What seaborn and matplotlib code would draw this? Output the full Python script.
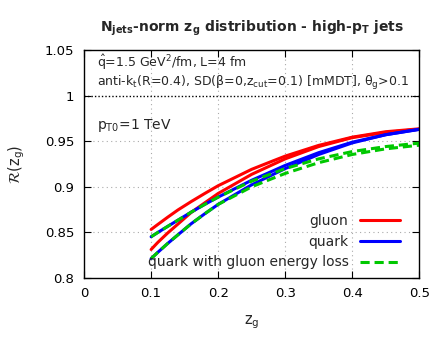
import numpy as np
import pandas as pd
import matplotlib
matplotlib.use("Agg")
import matplotlib.pyplot as plt
from matplotlib.ticker import FuncFormatter
import seaborn as sns

# z_g sample points and R(z_g)
zg = [0.1, 0.11, 0.125, 0.14, 0.16, 0.18, 0.2, 0.225, 0.25, 0.275, 0.3, 0.35, 0.4, 0.45, 0.5]

gluon_a = [0.853, 0.8585, 0.8666, 0.8744, 0.8837, 0.8925, 0.901, 0.910, 0.919, 0.9263, 0.9335, 0.9453, 0.9543, 0.9603, 0.9635]
gluon_b = [0.831, 0.8388, 0.8493, 0.8589, 0.8718, 0.8822, 0.8925, 0.903, 0.9135, 0.922, 0.9305, 0.944, 0.9538, 0.9595, 0.963]
quark_a = [0.845, 0.8497, 0.8565, 0.8632, 0.8721, 0.8805, 0.8885, 0.8978, 0.907, 0.9151, 0.9233, 0.9373, 0.9488, 0.957, 0.9628]
quark_b = [0.821, 0.8279, 0.8378, 0.8471, 0.8594, 0.8702, 0.8805, 0.8913, 0.902, 0.9109, 0.9198, 0.9353, 0.948, 0.957, 0.963]
qgloss_a = [0.845, 0.8497, 0.8565, 0.8632, 0.8721, 0.8805, 0.8885, 0.8973, 0.906, 0.9129, 0.9198, 0.9305, 0.9385, 0.944, 0.9478]
qgloss_b = [0.821, 0.8279, 0.8378, 0.8471, 0.8594, 0.8702, 0.8805, 0.8901, 0.8998, 0.9072, 0.9145, 0.9263, 0.9353, 0.9415, 0.9455]

xticks = [0, 0.1, 0.2, 0.3, 0.4, 0.5]
yticks = [0.8, 0.85, 0.9, 0.95, 1.0, 1.05]

sns.set_style("ticks")
plt.rcParams['font.family'] = ['DejaVu Sans']
plt.rcParams['mathtext.fontset'] = 'dejavusans'
plt.rcParams['mathtext.default'] = 'regular'

fig = plt.figure(figsize=(4.45, 3.45), dpi=100)
ax = fig.add_axes([0.189, 0.195, 0.753, 0.66])

red, blue, green = '#ff0000', '#0000ff', '#00c800'
dash = (0, (3, 1.6))
sns.lineplot(x=zg, y=gluon_a, color=red, lw=2.2, ax=ax, label='gluon')
sns.lineplot(x=zg, y=gluon_b, color=red, lw=2.2, ax=ax)
sns.lineplot(x=zg, y=quark_a, color=blue, lw=2.2, ax=ax, label='quark')
sns.lineplot(x=zg, y=quark_b, color=blue, lw=2.2, ax=ax)
sns.lineplot(x=zg, y=qgloss_a, color=green, lw=2.2, ls=dash, ax=ax,
             label='quark with gluon energy loss')
sns.lineplot(x=zg, y=qgloss_b, color=green, lw=2.2, ls=dash, ax=ax)

ax.set_xlim(0, 0.5)
ax.set_ylim(0.8, 1.05)
ax.set_xticks(xticks)
ax.set_yticks(yticks)
fmt = FuncFormatter(lambda v, p: '%g' % round(v, 3))
ax.xaxis.set_major_formatter(fmt)
ax.yaxis.set_major_formatter(fmt)
ax.tick_params(direction='in', top=True, right=True, length=5, width=0.8,
               labelsize=9.5, pad=7, colors='black')
for s in ax.spines.values():
    s.set_linewidth(1.0)
    s.set_color('black')

for x in [0.1, 0.2, 0.3, 0.4]:
    ax.axvline(x, color='#aaaaaa', lw=0.8, ls=(0, (1, 3)), zorder=0)
for y in [0.85, 0.9, 0.95]:
    ax.axhline(y, color='#aaaaaa', lw=0.8, ls=(0, (1, 3)), zorder=0)
ax.axhline(1.0, color='black', lw=1.0, ls=(0, (1, 1.5)), zorder=0)

ax.set_xlabel(r'$z_g$', fontsize=10.5, labelpad=9)
ax.set_ylabel(r'$\mathcal{R}(z_g)$', fontsize=10.5, labelpad=13)
ax.set_title(r'$\mathbf{N_{jets}}$-norm $\mathbf{z_g}$ distribution - high-$\mathbf{p_T}$ jets',
             fontsize=10, fontweight='bold', pad=13)

ax.text(0.039, 0.925, r'$\hat{q}$=1.5 GeV$^2$/fm, L=4 fm', transform=ax.transAxes,
        fontsize=9, va='baseline')
ax.text(0.039, 0.842, r'anti-k$_t$(R=0.4), SD(β=0,z$_{cut}$=0.1) [mMDT], θ$_g$>0.1',
        transform=ax.transAxes, fontsize=9, va='baseline')
ax.text(0.039, 0.653, r'p$_{T0}$=1 TeV', transform=ax.transAxes, fontsize=10, va='baseline')

ax.legend(loc='lower right', frameon=False, markerfirst=False, fontsize=10,
          handlelength=2.9, handletextpad=0.8, borderaxespad=0.2, labelspacing=0.48,
          bbox_to_anchor=(0.967, 0.0))

fig.savefig('out.png', dpi=100)
